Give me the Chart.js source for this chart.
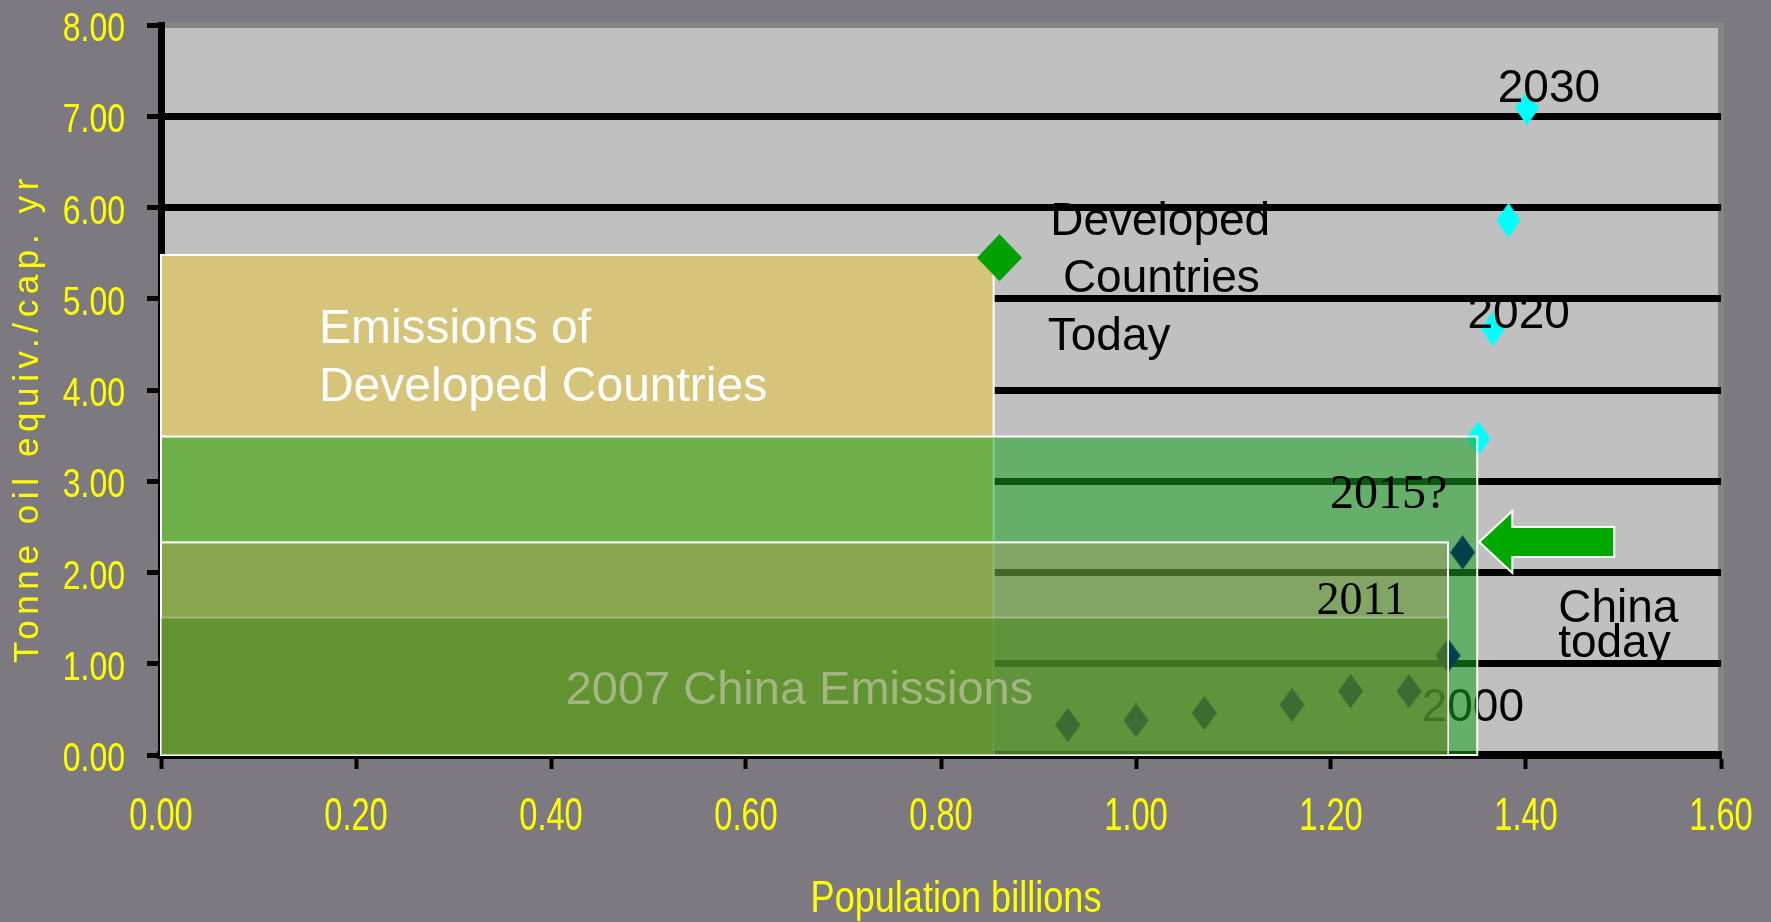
<!DOCTYPE html>
<html>
<head>
<meta charset="utf-8">
<title>China energy per capita vs population</title>
<script src="https://cdn.jsdelivr.net/npm/chart.js@4.4.1/dist/chart.umd.min.js"></script>
<style>
  html, body { margin: 0; padding: 0; background: #7c7980; }
  canvas { display: block; }
</style>
</head>
<body>
<canvas id="myChart" width="1771" height="922"></canvas>
<script>
// axis ticks
const xTicks = [0, 0.2, 0.4, 0.6, 0.8, 1.0, 1.2, 1.4, 1.6];
const yTicks = [0, 1, 2, 3, 4, 5, 6, 7, 8];

// China history: population (billions) vs tonne oil equiv. per capita
const chinaPop = [0.93, 1.00, 1.07, 1.16, 1.22, 1.28, 1.32, 1.335];
const chinaToe = [0.33, 0.38, 0.46, 0.55, 0.70, 0.70, 1.09, 2.22];

// projected path 2015? .. 2030
const projPop = [1.351, 1.366, 1.382, 1.401];
const projToe = [3.47, 4.67, 5.86, 7.09];

// developed countries today
const devPop = [0.86];
const devToe = [5.45];

// emission blocks (population x per capita)
const blockNames = ['Developed Countries', '2015?', '2011', '2007'];
const blockPop = [0.854, 1.35, 1.32, 1.32];
const blockToe = [5.48, 3.49, 2.33, 1.505];

const SANS = "'Liberation Sans', Arial, sans-serif";
const SERIF = "'Liberation Serif', 'Times New Roman', serif";

const blockStyle = [
  {fill: 'rgb(215,196,123)', line: '#ffffff'},
  {fill: 'rgba(25,161,34,0.55)', line: '#ffffff'},
  {fill: 'rgba(200,140,90,0.3)', line: '#ffffff'},
  {fill: 'rgba(60,130,20,0.5)', line: 'rgba(255,255,255,0.3)'}
];

// text notes placed in data units; 'under' ones get covered by the green blocks
const notes = [
  {text: '2000', x: 1.293, y: 0.378, font: '46px ' + SANS, color: '#000', layer: 'under'},
  {text: 'Emissions of', x: 0.162, y: 4.51, font: '48px ' + SANS, color: '#ffffff', layer: 'over'},
  {text: 'Developed Countries', x: 0.162, y: 3.88, font: '48px ' + SANS, color: '#ffffff', layer: 'over'},
  {text: '2007 China Emissions', x: 0.415, y: 0.554, font: '47px ' + SANS, color: '#a4b583', layer: 'over'},
  {text: 'Developed', x: 0.912, y: 5.697, font: '46px ' + SANS, color: '#000', layer: 'over'},
  {text: 'Countries', x: 0.925, y: 5.075, font: '46px ' + SANS, color: '#000', layer: 'over'},
  {text: 'Today', x: 0.9095, y: 4.436, font: '46px ' + SANS, color: '#000', layer: 'over'},
  {text: '2030', x: 1.371, y: 7.159, font: '46px ' + SANS, color: '#000', layer: 'over'},
  {text: '2020', x: 1.340, y: 4.677, font: '46px ' + SANS, color: '#000', layer: 'over'},
  {text: '2015?', x: 1.199, y: 2.703, font: '48px ' + SERIF, color: '#000', layer: 'over'},
  {text: '2011', x: 1.185, y: 1.548, font: '46px ' + SERIF, color: '#000', layer: 'over'},
  {text: 'China', x: 1.433, y: 1.456, font: '46px ' + SANS, color: '#000', layer: 'over'},
  {text: 'today', x: 1.433, y: 1.072, font: '46px ' + SANS, color: '#000', layer: 'over'}
];

// arrow pointing at "China today" point
const arrow = {tipX: 1.352, tipY: 2.334, headX: 1.386, tailX: 1.4905, headHalf: 0.34, shaftHalf: 0.165};

function diamond(w, h, color) {
  const c = document.createElement('canvas');
  c.width = w;
  c.height = h;
  const g = c.getContext('2d');
  g.fillStyle = color;
  g.beginPath();
  g.moveTo(w / 2, 0);
  g.lineTo(w, h / 2);
  g.lineTo(w / 2, h);
  g.lineTo(0, h / 2);
  g.closePath();
  g.fill();
  return c;
}

function drawBlock(chart, i) {
  const {ctx, scales} = chart;
  const x0 = scales.x.getPixelForValue(0);
  const x1 = scales.x.getPixelForValue(blockPop[i]);
  const y0 = scales.y.getPixelForValue(0);
  const y1 = scales.y.getPixelForValue(blockToe[i]);
  ctx.save();
  ctx.fillStyle = blockStyle[i].fill;
  ctx.fillRect(x0, y1, x1 - x0, y0 - y1);
  ctx.strokeStyle = blockStyle[i].line;
  ctx.lineWidth = 2;
  ctx.strokeRect(x0, y1, x1 - x0, y0 - y1);
  ctx.restore();
}

function drawNotes(chart, layer) {
  const {ctx, scales} = chart;
  ctx.save();
  ctx.textAlign = 'left';
  ctx.textBaseline = 'alphabetic';
  notes.filter(n => n.layer === layer).forEach(n => {
    ctx.font = n.font;
    ctx.fillStyle = n.color;
    ctx.fillText(n.text, scales.x.getPixelForValue(n.x), scales.y.getPixelForValue(n.y));
  });
  ctx.restore();
}

function drawArrow(chart) {
  const {ctx, scales} = chart;
  const X = v => scales.x.getPixelForValue(v);
  const Y = v => scales.y.getPixelForValue(v);
  ctx.save();
  ctx.beginPath();
  ctx.moveTo(X(arrow.tipX), Y(arrow.tipY));
  ctx.lineTo(X(arrow.headX), Y(arrow.tipY + arrow.headHalf));
  ctx.lineTo(X(arrow.headX), Y(arrow.tipY + arrow.shaftHalf));
  ctx.lineTo(X(arrow.tailX), Y(arrow.tipY + arrow.shaftHalf));
  ctx.lineTo(X(arrow.tailX), Y(arrow.tipY - arrow.shaftHalf));
  ctx.lineTo(X(arrow.headX), Y(arrow.tipY - arrow.shaftHalf));
  ctx.lineTo(X(arrow.headX), Y(arrow.tipY - arrow.headHalf));
  ctx.closePath();
  ctx.fillStyle = '#00a800';
  ctx.fill();
  ctx.strokeStyle = '#ffffff';
  ctx.lineWidth = 2;
  ctx.stroke();
  ctx.restore();
}

// condensed text (the slide used a narrow face)
function narrowText(ctx, text, x, y, size, squeeze, align) {
  ctx.save();
  ctx.translate(x, y);
  ctx.scale(squeeze, 1);
  ctx.font = size + 'px ' + SANS;
  ctx.textAlign = align;
  ctx.textBaseline = 'alphabetic';
  ctx.fillText(text, 0, 0);
  ctx.restore();
}

const plotPlugin = {
  id: 'plot',
  beforeDraw(chart) {
    const {ctx, chartArea: a} = chart;
    ctx.save();
    ctx.fillStyle = '#7c7980';
    ctx.fillRect(0, 0, chart.width, chart.height);
    ctx.fillStyle = '#c0c0c0';
    ctx.fillRect(a.left, a.top, a.right - a.left, a.bottom - a.top);
    ctx.strokeStyle = '#848484';
    ctx.lineWidth = 6;
    ctx.strokeRect(a.left, a.top, a.right - a.left, a.bottom - a.top);
    ctx.restore();
  },
  beforeDatasetsDraw(chart) {
    drawBlock(chart, 0);
    drawNotes(chart, 'under');
  },
  afterDatasetDraw(chart, args) {
    if (args.index === 0) drawBlock(chart, 1);
    if (args.index === 1) {
      drawBlock(chart, 2);
      drawBlock(chart, 3);
    }
  },
  afterDatasetsDraw(chart) {
    drawNotes(chart, 'over');
    drawArrow(chart);
  },
  afterDraw(chart) {
    const {ctx, scales} = chart;
    const xs = scales.x;
    const ys = scales.y;
    ctx.save();
    ctx.fillStyle = '#ffff00';
    // tick labels
    xTicks.forEach(v => narrowText(ctx, v.toFixed(2), xs.getPixelForValue(v), xs.top + 75, 46, 0.71, 'center'));
    yTicks.forEach(v => narrowText(ctx, v.toFixed(2), ys.right - 36, ys.getPixelForValue(v) + 16, 41, 0.78, 'right'));
    // x axis title
    narrowText(ctx, 'Population billions', (xs.left + xs.right) / 2 + 15, xs.bottom - 10, 44, 0.82, 'center');
    // y axis title, letter spaced
    ctx.translate(28, 418);
    ctx.rotate(-Math.PI / 2);
    ctx.font = '35px ' + SANS;
    ctx.letterSpacing = '5.6px';
    ctx.textAlign = 'center';
    ctx.textBaseline = 'middle';
    ctx.fillText('Tonne oil equiv./cap. yr', 0, 0);
    ctx.restore();
  }
};

function MainEvent() {
  const target = document.querySelector('#myChart');
  const points = (xs, ys) => xs.map((x, i) => ({x: x, y: ys[i]}));

  const data = {
    datasets: [
      {
        label: 'Projection',
        data: points(projPop, projToe),
        pointStyle: diamond(24, 35, '#00ffff'),
        pointRadius: 12,
        order: 3
      },
      {
        label: 'China',
        data: points(chinaPop, chinaToe),
        pointStyle: diamond(25, 34, '#00404a'),
        pointRadius: 12,
        order: 2
      },
      {
        label: 'Developed Countries Today',
        data: points(devPop, devToe),
        pointStyle: diamond(45, 47, '#00a000'),
        pointRadius: 22,
        order: 1
      }
    ]
  };

  const config = {
    type: 'scatter',
    data: data,
    options: {
      responsive: false,
      animation: false,
      devicePixelRatio: 1,
      events: [],
      layout: {padding: {top: 25, right: 50, left: 0, bottom: 0}},
      plugins: {legend: {display: false}, tooltip: {enabled: false}},
      scales: {
        x: {
          type: 'linear',
          min: 0,
          max: 1.6,
          afterFit: s => {
            s.height = 167;
            s.paddingLeft = 0;
            s.paddingRight = 0;
          },
          afterBuildTicks: s => { s.ticks = xTicks.map(v => ({value: v})); },
          ticks: {display: false, autoSkip: false, maxRotation: 0},
          grid: {drawOnChartArea: false, drawTicks: true, tickLength: 14, tickWidth: 4, tickColor: '#000'},
          border: {color: '#000', width: 8}
        },
        y: {
          type: 'linear',
          min: 0,
          max: 8,
          afterFit: s => {
            s.width = 161;
            s.paddingTop = 0;
            s.paddingBottom = 0;
          },
          afterBuildTicks: s => { s.ticks = yTicks.map(v => ({value: v})); },
          ticks: {display: false, autoSkip: false},
          grid: {
            color: c => c.tick.value === 8 ? 'rgba(0,0,0,0)' : (c.tick.value === 0 ? 'rgba(0,0,0,0)' : '#000'),
            lineWidth: 7,
            drawTicks: true,
            tickLength: 14,
            tickWidth: 5,
            tickColor: '#000'
          },
          border: {color: '#000', width: 7}
        }
      }
    },
    plugins: [plotPlugin]
  };

  return new Chart(target, config);
}

document.addEventListener('DOMContentLoaded', () => MainEvent());
</script>
</body>
</html>
